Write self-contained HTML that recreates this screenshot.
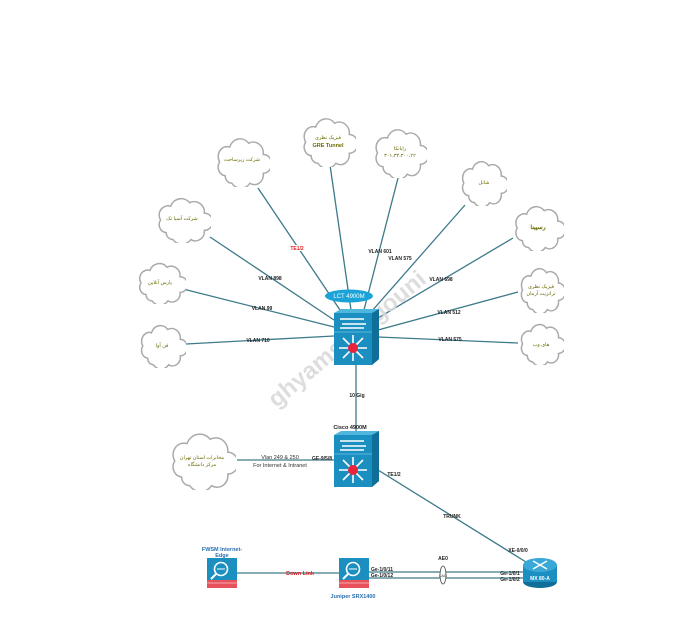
<!DOCTYPE html>
<html><head><meta charset="utf-8"><style>
html,body{margin:0;padding:0;background:#fff;}
svg{display:block;font-family:"Liberation Sans","Noto Sans CJK SC",sans-serif;}
.l{stroke:#3d7a8a;stroke-width:1.3;fill:none}
.t{font-size:5px;font-weight:bold;fill:#222}
.c{font-size:5px;fill:#6b6b00}
</style></head><body>
<svg width="690" height="638" viewBox="0 0 690 638" xmlns="http://www.w3.org/2000/svg">
<defs>
<symbol id="cl" viewBox="0 0 100 80" preserveAspectRatio="none">
<path d="M20,62 A14,14 0 0,1 10,40 A16,16 0 0,1 28,16 A20,20 0 0,1 62,10 A18,18 0 0,1 88,28 A15,15 0 0,1 88,58 A16,16 0 0,1 64,74 A20,20 0 0,1 32,74 A12,12 0 0,1 20,62 Z" fill="#fff" stroke="#aaa" stroke-width="1.5" vector-effect="non-scaling-stroke"/>
</symbol>
<symbol id="sw" viewBox="0 0 45 56">
<polygon points="0,4 38,4 45,0 45,50 38,56 0,56" fill="#1a8fc0"/>
<polygon points="0,4 7,0 45,0 38,4" fill="#4fb6de"/>
<polygon points="38,4 45,0 45,50 38,56" fill="#0f6f98"/>
<line x1="0" y1="23" x2="38" y2="23" stroke="#6cc4e6" stroke-width="0.8"/>
<g stroke="#fff" stroke-width="1.6"><line x1="6" y1="10" x2="30" y2="10"/><line x1="8" y1="15" x2="32" y2="15"/><line x1="6" y1="19" x2="30" y2="19"/>
<line x1="19" y1="26" x2="19" y2="52"/><line x1="5" y1="39" x2="33" y2="39"/><line x1="9" y1="29" x2="29" y2="49"/><line x1="29" y1="29" x2="9" y2="49"/></g>
<circle cx="19" cy="39" r="5" fill="#e8243c"/>
</symbol>
<symbol id="fw" viewBox="0 0 30 30">
<rect x="0" y="0" width="30" height="22" fill="#1a8fc0"/>
<rect x="0" y="22" width="30" height="8" fill="#e8505a"/>
<line x1="0" y1="25" x2="30" y2="25" stroke="#fff" stroke-width="0.5"/>
<circle cx="14" cy="11" r="6.5" fill="none" stroke="#fff" stroke-width="1.6"/>
<line x1="9" y1="16" x2="4" y2="21" stroke="#fff" stroke-width="2"/>
<line x1="10" y1="11" x2="18" y2="11" stroke="#fff" stroke-width="1"/>
</symbol>
</defs>

<!-- lines to clouds -->
<g class="l">
<line x1="258" y1="188" x2="340" y2="310"/>
<line x1="330" y1="165" x2="351" y2="310"/>
<line x1="398" y1="178" x2="364" y2="310"/>
<line x1="465" y1="205" x2="371" y2="312"/>
<line x1="513" y1="238" x2="378" y2="318"/>
<line x1="518" y1="292" x2="378" y2="330"/>
<line x1="518" y1="343" x2="378" y2="337"/>
<line x1="186" y1="344" x2="334" y2="336"/>
<line x1="183" y1="289" x2="334" y2="327"/>
<line x1="210" y1="237" x2="334" y2="320"/>
<line x1="356" y1="364" x2="356" y2="431"/>
<line x1="237" y1="460" x2="334" y2="460"/>
<line x1="378" y1="470" x2="526" y2="562"/>
<line x1="237" y1="573" x2="339" y2="573"/>
<line x1="368" y1="572" x2="525" y2="572"/>
<line x1="368" y1="578" x2="525" y2="578"/>
</g>

<!-- watermark -->
<text x="352" y="345" transform="rotate(-40 352 345)" text-anchor="middle" font-size="24" font-weight="bold" fill="#d8d8d8" opacity="0.85">ghyamsanegouni</text>

<!-- clouds -->
<use href="#cl" x="214" y="137" width="56" height="50"/>
<use href="#cl" x="300" y="117" width="56" height="50"/>
<use href="#cl" x="372" y="128" width="55" height="50"/>
<use href="#cl" x="459" y="160" width="48" height="46"/>
<use href="#cl" x="512" y="205" width="52" height="46"/>
<use href="#cl" x="518" y="267" width="46" height="46"/>
<use href="#cl" x="518" y="323" width="46" height="42"/>
<use href="#cl" x="155" y="197" width="56" height="46"/>
<use href="#cl" x="136" y="262" width="50" height="42"/>
<use href="#cl" x="138" y="324" width="48" height="44"/>
<use href="#cl" x="168" y="432" width="68" height="58"/>

<g class="c" text-anchor="middle">
<text x="242" y="161">شرکت زیرساخت</text>
<text x="328" y="139">فیزیک نظری</text>
<text x="328" y="147" font-weight="bold" font-size="5.5">GRE Tunnel</text>
<text x="400" y="150">رایانکا</text>
<text x="400" y="157">۳۰۱،۳۴،۳۰۰،۲۲</text>
<text x="484" y="184">شاتل</text>
<text x="538" y="229" font-weight="bold" font-size="6">رسپینا</text>
<text x="541" y="288">فیزیک نظری</text>
<text x="541" y="295">ترانزیت آرمان</text>
<text x="541" y="346">های وب</text>
<text x="182" y="220">شرکت آسیا تک</text>
<text x="160" y="284">پارس آنلاین</text>
<text x="162" y="347">فن آوا</text>
<text x="202" y="459">مخابرات استان تهران</text>
<text x="202" y="466">مرکز دانشگاه</text>
</g>

<!-- labels -->
<g class="t" text-anchor="middle">
<rect x="286" y="245" width="22" height="6" fill="#fff"/>
<text x="297" y="250" fill="#e02020">TE1/2</text>
<text x="380" y="253">VLAN 601</text>
<text x="400" y="260">VLAN 575</text>
<text x="270" y="280">VLAN 898</text>
<text x="441" y="281">VLAN 698</text>
<text x="262" y="310">VLAN 99</text>
<text x="449" y="314">VLAN 512</text>
<text x="258" y="342">VLAN 710</text>
<text x="450" y="341">VLAN 575</text>
<text x="357" y="397">10 Gig</text>
<text x="350" y="429" font-size="5.5">Cisco 4900M</text>
<text x="350" y="435" font-size="5.5">NOC</text>
<text x="322" y="460">GE-9/5/8</text>
<text x="394" y="476">TE1/2</text>
<text x="452" y="518">TRUNK</text>
<text x="518" y="552">XE-0/0/0</text>
<text x="443" y="560">AE0</text>
<text x="382" y="571">Ge-1/0/11</text>
<text x="382" y="577">Ge-1/0/12</text>
<text x="510" y="575">Ge-1/0/1</text>
<text x="510" y="581">Ge-1/0/2</text>
</g>
<g font-size="5.5" text-anchor="middle">
<text x="280" y="459" fill="#333">Vlan 249 &amp; 250</text>
<text x="280" y="467" fill="#333">For Internet &amp; Intranet</text>
<text x="300" y="575" fill="#e02020" font-weight="bold">Down Link</text>
<text x="222" y="551" fill="#2a6fb0" font-weight="bold">FWSM Internet-</text>
<text x="222" y="557" fill="#2a6fb0" font-weight="bold">Edge</text>
<text x="353" y="598" fill="#2a6fb0" font-weight="bold">Juniper SRX1400</text>
</g>

<!-- ellipse label -->
<ellipse cx="349" cy="296" rx="24" ry="6.5" fill="#1aa3d6"/>
<text x="349" y="298" font-size="6" fill="#fff" text-anchor="middle">LCT 4900M</text>

<!-- switches -->
<use href="#sw" x="334" y="309" width="45" height="56"/>
<use href="#sw" x="334" y="431" width="45" height="56"/>

<!-- firewalls -->
<use href="#fw" x="207" y="558" width="30" height="30"/>
<use href="#fw" x="339" y="558" width="30" height="30"/>

<!-- LAG ellipse -->
<ellipse cx="443" cy="575" rx="3" ry="9" fill="#fff" stroke="#444" stroke-width="0.8"/>
<text x="443" y="577" font-size="4" text-anchor="middle" fill="#333">LAG</text>

<!-- router -->
<ellipse cx="540" cy="582" rx="17" ry="6" fill="#0f6f98"/>
<rect x="523" y="565" width="34" height="17" fill="#1a8fc0"/>
<ellipse cx="540" cy="565" rx="17" ry="7" fill="#3aa8d6"/>
<g stroke="#fff" stroke-width="1.4"><line x1="533" y1="561" x2="547" y2="569"/><line x1="547" y1="561" x2="533" y2="569"/></g>
<text x="540" y="580" font-size="5" font-weight="bold" fill="#fff" text-anchor="middle">MX 80-A</text>
</svg>
</body></html>
